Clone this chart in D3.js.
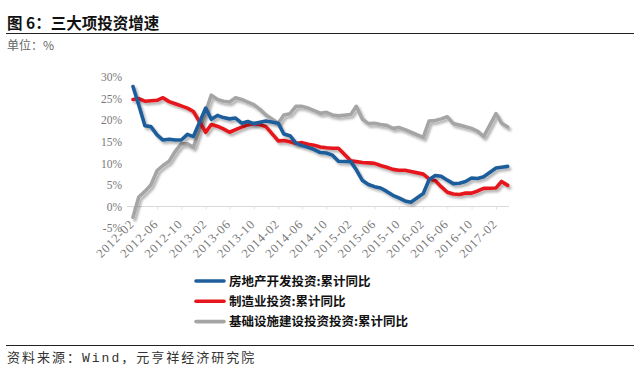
<!DOCTYPE html>
<html><head><meta charset="utf-8">
<script src="https://cdn.jsdelivr.net/npm/d3@7/dist/d3.min.js"></script>
<style>
body{margin:0;background:#fff;}
svg{display:block;}
</style></head>
<body>
<svg id="c" width="640" height="369"></svg>
<script>
const months = [
"2012-02","2012-03","2012-04","2012-05","2012-06","2012-07","2012-08","2012-09","2012-10","2012-11","2012-12",
"2013-02","2013-03","2013-04","2013-05","2013-06","2013-07","2013-08","2013-09","2013-10","2013-11","2013-12",
"2014-02","2014-03","2014-04","2014-05","2014-06","2014-07","2014-08","2014-09","2014-10","2014-11","2014-12",
"2015-02","2015-03","2015-04","2015-05","2015-06","2015-07","2015-08","2015-09","2015-10","2015-11","2015-12",
"2016-02","2016-03","2016-04","2016-05","2016-06","2016-07","2016-08","2016-09","2016-10","2016-11","2016-12",
"2017-02","2017-03","2017-04"];
const realEstate = [
27.8,23.5,18.7,18.5,16.6,15.4,15.6,15.4,15.4,16.7,16.2,
22.8,20.2,21.1,20.6,20.3,20.5,19.3,19.7,19.2,19.5,19.8,
19.3,16.8,16.4,14.7,14.1,13.7,13.2,12.5,12.4,11.9,10.5,
10.4,8.5,6.0,5.1,4.6,4.3,3.5,2.6,2.0,1.3,1.0,
3.0,6.2,7.2,7.0,6.1,5.3,5.4,5.8,6.6,6.5,6.9,
8.9,9.1,9.3];
const manufacturing = [
24.8,25.0,24.4,24.5,24.6,25.2,24.3,23.8,23.3,22.8,22.0,
17.2,19.0,18.6,18.0,17.2,17.8,18.4,18.9,19.2,19.0,18.5,
15.2,15.3,15.0,14.6,14.8,14.4,14.2,13.8,13.6,13.5,13.5,
10.6,10.4,10.2,10.1,10.0,9.5,9.1,8.6,8.4,8.4,8.1,
7.5,6.4,6.0,4.6,3.3,2.9,2.8,3.1,3.1,3.6,4.2,
4.3,5.8,4.9];
const infrastructure = [
-2.5,2.2,3.5,5.0,8.3,9.5,10.5,12.8,14.5,14.5,13.7,
22.0,25.8,24.8,24.4,24.2,25.2,24.8,24.2,23.6,22.5,21.2,
19.3,21.2,21.5,23.2,23.2,22.8,22.2,21.6,21.8,21.2,21.0,
21.3,23.2,20.2,19.2,19.3,19.0,18.8,18.1,18.3,17.8,17.2,
16.0,19.8,19.9,20.3,20.8,19.2,18.9,18.5,18.1,17.4,16.2,
21.5,19.3,18.4];
const seriesNames = ["房地产开发投资:累计同比","制造业投资:累计同比","基础设施建设投资投资:累计同比"];
const seriesColors = ["#1f5d9c","#e5161c","#a5a5a5"];
const xTickLabels = ["2012-02","2012-06","2012-10","2013-02","2013-06","2013-10","2014-02","2014-06","2014-10","2015-02","2015-06","2015-10","2016-02","2016-06","2016-10","2017-02"];
const yTicks = [-5,0,5,10,15,20,25,30];

const svg = d3.select("#c");
const parse = d3.timeParse("%Y-%m");
const x = d3.scaleTime().domain([parse("2012-02"), parse("2017-02")]).range([133, 496]);
const y = d3.scaleLinear().domain([-5, 30]).range([228.1, 77]);

// shadow filter
const defs = svg.append("defs");
const f = defs.append("filter").attr("id","sh").attr("x","-10%").attr("y","-10%").attr("width","120%").attr("height","130%");
f.append("feDropShadow").attr("dx",2).attr("dy",2.5).attr("stdDeviation",1).attr("flood-color","#000").attr("flood-opacity",0.3);

// header
svg.append("text").attr("x",7).attr("y",29).attr("font-family","'Noto Sans CJK SC'").attr("font-weight","bold")
  .attr("font-size",15.5).attr("fill","#111").text("图 6：三大项投资增速");
svg.append("line").attr("x1",6).attr("x2",634).attr("y1",33.5).attr("y2",33.5).attr("stroke","#222").attr("stroke-width",1);
svg.append("text").attr("x",7).attr("y",50).attr("font-family","'Noto Sans CJK SC'").attr("font-size",12)
  .attr("fill","#666").text("单位：%");

// footer
svg.append("line").attr("x1",6).attr("x2",634).attr("y1",345.5).attr("y2",345.5).attr("stroke","#222").attr("stroke-width",1);
svg.append("text").attr("x",7).attr("y",362).attr("font-family","'Liberation Mono','Noto Sans CJK SC'").attr("font-size",13)
  .attr("letter-spacing",2).attr("fill","#333").text("资料来源：Wind，元亨祥经济研究院");

// zero axis line with ticks
const xAxis = d3.axisBottom(x)
  .tickValues(xTickLabels.map(parse))
  .tickSize(3).tickSizeOuter(0).tickFormat("");
const gx = svg.append("g").attr("transform",`translate(0,${y(0)})`).call(xAxis);
gx.select(".domain").attr("stroke","#d9d9d9").attr("d",`M127,0H509`);
gx.selectAll(".tick line").attr("stroke","#e3e3e3");

// x labels
svg.append("g").selectAll("text").data(xTickLabels).join("text")
  .attr("transform", d => `translate(${x(parse(d))-1},${y(0)+15}) rotate(-45)`)
  .attr("text-anchor","end").attr("dy","0.35em")
  .attr("font-family","'Liberation Serif'").attr("font-size",12.5).attr("letter-spacing",0.9).attr("fill","#777")
  .text(d => d);

// y labels
const yAxis = d3.axisLeft(y).tickValues(yTicks).tickSize(0).tickFormat(d => d + "%");
const gy = svg.append("g").attr("transform","translate(123,0)").call(yAxis);
gy.select(".domain").remove();
gy.selectAll("text").attr("font-family","'Liberation Serif'").attr("font-size",11.5).attr("fill","#777").attr("x",-1);

// lines
const line = d3.line().x((d,i) => x(parse(months[i]))).y(d => y(d)).curve(d3.curveLinear);
const allSeries = [realEstate, manufacturing, infrastructure];
[2,1,0].forEach(k => {
  svg.append("path").datum(allSeries[k]).attr("d",line)
    .attr("fill","none").attr("stroke",seriesColors[k]).attr("stroke-width",3.6)
    .attr("stroke-linejoin","round").attr("stroke-linecap","round")
    .attr("filter","url(#sh)");
});

// legend
const lg = svg.append("g");
seriesNames.forEach((n,i) => {
  const yy = 281 + i*20.3;
  lg.append("line").attr("x1",196).attr("x2",224).attr("y1",yy).attr("y2",yy)
    .attr("stroke",seriesColors[i]).attr("stroke-width",3.6).attr("stroke-linecap","round");
  lg.append("text").attr("x",229).attr("y",yy).attr("dy","0.36em")
    .attr("font-family","'Noto Sans CJK SC'").attr("font-weight","bold").attr("font-size",12.5)
    .attr("fill","#111").text(n);
});
</script>
</body></html>
